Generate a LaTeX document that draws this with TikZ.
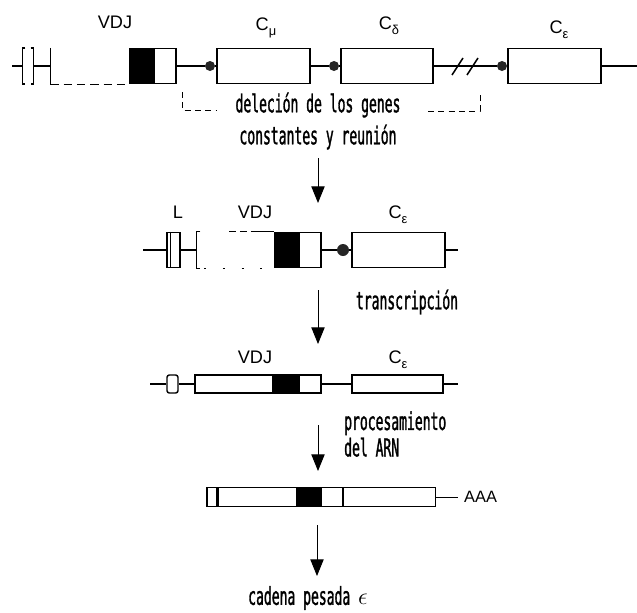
\documentclass[tikz,border=0pt]{standalone}
\usepackage{fontspec}
\usepackage{tikz}
\usetikzlibrary{arrows.meta, positioning}
\newfontfamily\genefont{Liberation Sans}
\newfontfamily\notefont[FakeStretch=0.53, FakeBold=1.2]{DejaVu Sans Mono}
\newcommand\pw{0.03cm}
\newcommand\gsub[1]{C\raisebox{-0.5ex}{\fontsize{11}{12}\selectfont #1}}
\tikzstyle{exon} = [rectangle, draw=black, fill=white, line width=1.2pt, inner sep=0pt, minimum height=35*\pw]
\tikzstyle{jseg} = [exon, fill=black]
\tikzstyle{switch} = [circle, fill=black!85, inner sep=0pt, minimum size=10*\pw]
\tikzstyle{dna} = [line width=1.3pt]
\tikzstyle{lab} = [font=\genefont\fontsize{15.5}{18}\selectfont]
\tikzstyle{note} = [font=\notefont\fontsize{21}{27.3}\selectfont, inner sep=0pt]
\tikzstyle{arrow} = [line width=0.8pt, -{Triangle[width=0.4cm, length=0.5cm]}]

\begin{document}
\begin{tikzpicture}[x=0.03cm, y=-0.03cm]
    \useasboundingbox (0,0) rectangle (637,613);

    % germline DNA
    \coordinate (s1) at (12,66);
    \node (L1) [exon, draw=none, fill=none, minimum width=10*\pw] at (28,66) {};
    \node (V1) [exon, draw=none, fill=none, minimum width=77*\pw] at (89.5,66) {};
    \node (J1) [jseg, right=0pt of V1, minimum width=23*\pw] {};
    \node (C1) [exon, right=0pt of J1, minimum width=22*\pw] {};
    \node (a1) [switch] at (210,66) {};
    \node (Cmu) [exon, minimum width=93*\pw] at (263.5,66) {};
    \node (a2) [switch] at (334,66) {};
    \node (Cdelta) [exon, minimum width=92*\pw] at (387,66) {};
    \node (a3) [switch] at (502,66) {};
    \node (Ceps1) [exon, minimum width=93*\pw] at (554.5,66) {};
    \coordinate (e1) at (637,66);
    \draw [dna] (s1) -- (L1.west);
    \draw [dna] (L1.north west) ++(3,0) -- (L1.north west) -- (L1.south west) -- ++(3,0);
    \draw [dna] (L1.north east) ++(-3,0) -- (L1.north east) -- (L1.south east) -- ++(-3,0);
    \draw [dna] (L1.east) -- (V1.west);
    \draw [dna] (V1.north west) -- (V1.south west);
    \draw [line width=0.8pt, dash pattern=on 0.25cm off 0.15cm] (V1.south west) -- (V1.south east);
    \draw [dna] (C1.east) -- (a1) -- (Cmu.west);
    \draw [dna] (Cmu.east) -- (a2) -- (Cdelta.west);
    \draw [dna] (Cdelta.east) -- (a3) -- (Ceps1.west);
    \draw [dna] (Ceps1.east) -- (e1);
    \draw [dna] (452,75) -- (463,58);
    \draw [dna] (467,75) -- (478,58);
    \node (vdj1) [lab] at (115,22) {VDJ};
    \node (mu) [lab] at (266,28) {\gsub{μ}};
    \node (delta) [lab] at (389,26) {\gsub{δ}};
    \node (eps1) [lab] at (559,30) {\gsub{ε}};

    % deleted region
    \draw [line width=0.7pt, dash pattern=on 0.18cm off 0.13cm] (182,92) -- (182,110) -- (216,110);
    \draw [line width=0.7pt, dash pattern=on 0.18cm off 0.13cm] (428,111) -- (480,111) -- (480,93);
    \node (del) [note, align=center] at (318,121) {deleción de los genes\\constantes y reunión};

    \coordinate (ar1a) at (318,158);
    \coordinate (ar1b) at (318,203);
    \draw [arrow] (ar1a) -- (ar1b);

    % rearranged DNA
    \coordinate (s2) at (143,250);
    \node (L2) [exon, minimum width=13*\pw] at (173.5,250) {};
    \node (V2) [exon, draw=none, fill=none, minimum width=76*\pw] at (235,250) {};
    \node (J2) [jseg, right=0pt of V2, minimum width=23*\pw] {};
    \node (C2) [exon, right=0pt of J2, minimum width=22*\pw] {};
    \node (b1) [switch, minimum size=12*\pw] at (343,250) {};
    \node (Ceps2) [exon, minimum width=93*\pw] at (398.5,250) {};
    \coordinate (e2) at (458,250);
    \draw [dna] (s2) -- (L2.west);
    \draw [line width=0.6pt] ([xshift=4*\pw]L2.north west) -- ([xshift=4*\pw]L2.south west);
    \draw [dna] (L2.east) -- (V2.west);
    \draw [line width=0.8pt] (V2.north west) ++(4,0) -- (V2.north west) -- (V2.south west) -- ++(4,0);
    \draw [line width=0.8pt, dash pattern=on 0.2cm off 0.12cm] (V2.north west) ++(33,0) -- ++(28,0);
    \draw [line width=0.8pt] (V2.north west) ++(60,0) -- (V2.north east);
    \draw [line width=0.9pt, dash pattern=on 0.06cm off 0.5cm] (V2.south west) ++(8,0) -- (V2.south east);
    \draw [dna] (C2.east) -- (b1) -- (Ceps2.west);
    \draw [dna] (Ceps2.east) -- (e2);
    \node (lead2) [lab] at (178,212) {L};
    \node (vdj2) [lab] at (255,212) {VDJ};
    \node (eps2) [lab] at (398,215) {\gsub{ε}};

    \coordinate (ar2a) at (318,290);
    \coordinate (ar2b) at (318,344);
    \draw [arrow] (ar2a) -- (ar2b);
    \node (trans) [note] at (407,302) {transcripción};

    % primary transcript
    \coordinate (s3) at (150,384);
    \node (L3) [exon, minimum width=11*\pw, minimum height=18*\pw, rounded corners=2pt] at (172.5,384) {};
    \node (V3) [exon, minimum width=78*\pw, minimum height=18*\pw] at (234,384) {};
    \node (J3) [jseg, right=0pt of V3, minimum width=23*\pw, minimum height=18*\pw] {};
    \node (C3) [exon, right=0pt of J3, minimum width=22*\pw, minimum height=18*\pw] {};
    \node (Ceps3) [exon, minimum width=91*\pw, minimum height=18*\pw] at (397.5,384) {};
    \coordinate (e3) at (458,384);
    \draw [dna] (s3) -- (L3.west);
    \draw [dna] (L3.east) -- (V3.west);
    \draw [dna] (C3.east) -- (Ceps3.west);
    \draw [dna] (Ceps3.east) -- (e3);
    \node (vdj3) [lab] at (255,357) {VDJ};
    \node (eps3) [lab] at (398,360) {\gsub{ε}};

    \coordinate (ar3a) at (318,425);
    \coordinate (ar3b) at (318,471);
    \draw [arrow] (ar3a) -- (ar3b);
    \node (proc) [note, anchor=west, align=left, font=\notefont\fontsize{21}{22.5}\selectfont] at (344,434) {procesamiento\\del ARN};

    % mRNA
    \node (m1) [exon, minimum width=10*\pw, minimum height=19*\pw] at (212,497) {};
    \node (m2) [exon, right=0pt of m1, minimum width=78*\pw, minimum height=19*\pw] {};
    \node (m3) [jseg, right=0pt of m2, minimum width=22*\pw, minimum height=19*\pw] {};
    \node (m4) [exon, right=0pt of m3, minimum width=21*\pw, minimum height=19*\pw] {};
    \node (m5) [exon, right=0pt of m4, minimum width=92*\pw, minimum height=19*\pw] {};
    \node (polyA) [lab, anchor=west, inner sep=0pt, font=\genefont\fontsize{14}{16}\selectfont] at (464,497) {AAA};
    \draw [line width=0.7pt] (m5.east) -- ([xshift=-6*\pw]polyA.west);

    \coordinate (ar4a) at (317,525);
    \coordinate (ar4b) at (317,576);
    \draw [arrow] (ar4a) -- (ar4b);
    \node (chain) [note] at (308,598) {cadena pesada $\epsilon$};
\end{tikzpicture}
\end{document}
